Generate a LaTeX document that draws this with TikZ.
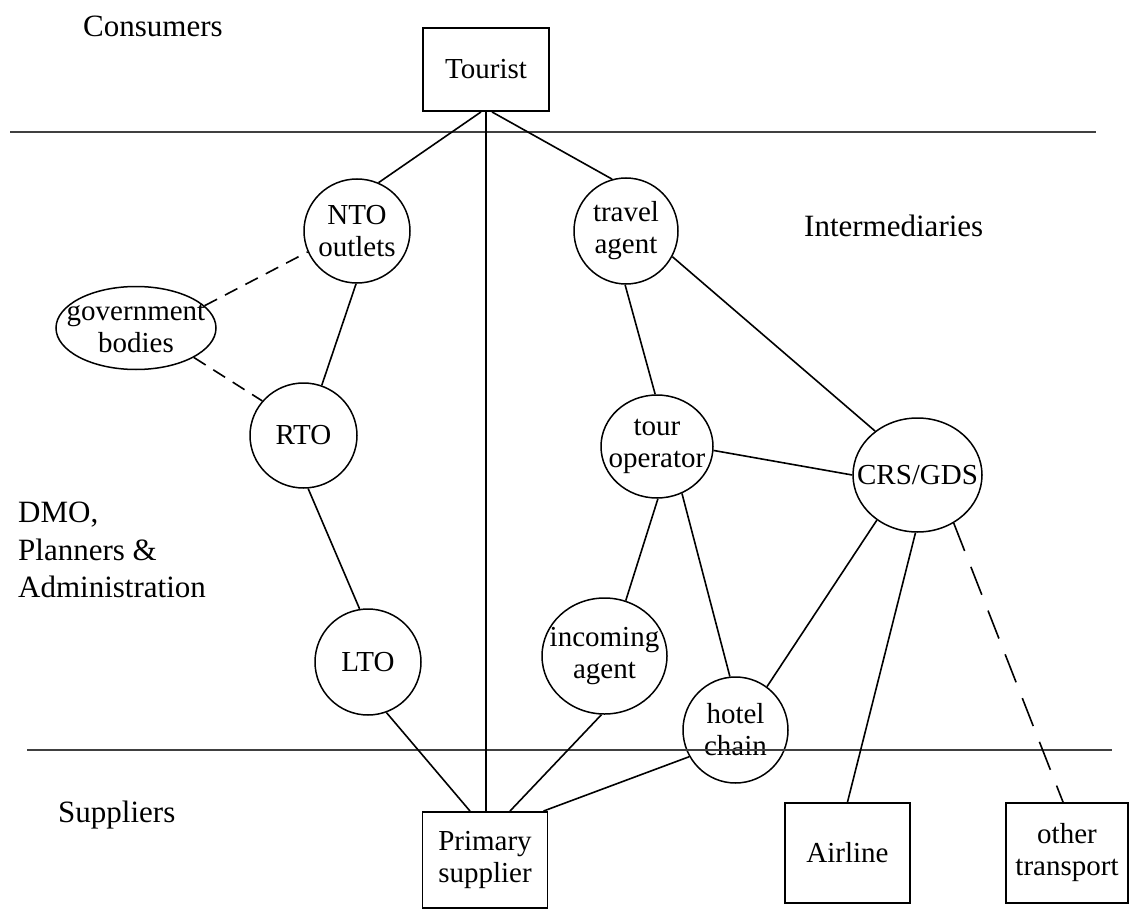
\documentclass[tikz,border=0pt]{standalone}
\usepackage{fontspec}
\setmainfont{Liberation Serif}
\usetikzlibrary{shapes.geometric}
\begin{document}
\begin{tikzpicture}[x=1pt, y=-1pt,
  every node/.style={font=\fontsize{29}{32}\selectfont},
  region/.style={font=\fontsize{31}{37.5}\selectfont, inner sep=0pt, align=left},
  box/.style={draw, rectangle, line width=1.9pt, inner sep=0pt, align=center},
  bubble/.style={draw, ellipse, line width=1.5pt, inner sep=0pt},
  bubbletext/.style={align=center, inner sep=0pt, font=\fontsize{29}{32}\selectfont},
  link/.style={line width=1.6pt},
  shortdash/.style={line width=1.6pt, dash pattern=on 14pt off 9pt},
  longdash/.style={line width=1.6pt, dash pattern=on 30pt off 17pt},
  divider/.style={line width=2.6pt, black!75}]

\useasboundingbox (0,0) rectangle (1129,909);

% region captions
\node[region, anchor=west] (consumers) at (83,26) {Consumers};
\node[region, anchor=west] (intermed) at (804,226) {Intermediaries};
\node[region, anchor=west] (dmo) at (18,550) {DMO,\\Planners \&\\Administration};
\node[region, anchor=west] (suppliers) at (58,815) {Suppliers};

% rectangular actors
\node[box, minimum width=126, minimum height=83] (tourist) at (486,69.5) {Tourist};
\node[box, minimum width=125, minimum height=96] (primary) at (485,860) {Primary\\supplier};
\node[box, minimum width=125, minimum height=100] (airline) at (847.5,853) {Airline};
\node[box, minimum width=122, minimum height=100] (other) at (1067,853) {other\\transport};

% round actors
\node[bubble, minimum width=106, minimum height=104, label={[bubbletext]center:{NTO\\outlets}}] (nto) at (357,231) {};
\node[bubble, minimum width=160, minimum height=83, label={[bubbletext]center:{government\\bodies}}] (gov) at (136,328) {};
\node[bubble, minimum width=107, minimum height=105, label={[bubbletext]center:RTO}] (rto) at (303.5,435.5) {};
\node[bubble, minimum width=106, minimum height=106, label={[bubbletext]center:LTO}] (lto) at (368,662) {};
\node[bubble, minimum width=104, minimum height=106, label={[bubbletext]center:{travel\\agent}}] (travel) at (626,231) {};
\node[bubble, minimum width=112, minimum height=103, label={[bubbletext]center:{tour\\operator}}] (tour) at (657,446.5) {};
\node[bubble, minimum width=129, minimum height=114, label={[bubbletext]center:CRS/GDS}] (crs) at (917.5,475) {};
\node[bubble, minimum width=125, minimum height=116, label={[bubbletext]center:{incoming\\agent}}] (incoming) at (604.5,656) {};
\node[bubble, minimum width=105, minimum height=106, label={[bubbletext]center:{hotel\\chain}}] (hotel) at (735.5,730) {};

% layer dividers
\coordinate (topL) at (10,132);
\coordinate (topR) at (1096,132);
\coordinate (botL) at (27,750);
\coordinate (botR) at (1112,750);
\draw[divider] (topL) -- (topR);
\draw[divider] (botL) -- (botR);

% distribution links
\draw[link] ([xshift=-5pt]tourist.south) -- (nto.66);
\draw[link] ([xshift=6pt]tourist.south) -- (travel.105);
\draw[link] (tourist.south) -- (tourist.south |- primary.north);
\draw[shortdash] (gov.18) -- (nto.203);
\draw[shortdash] (gov.333) -- (rto.140);
\draw[link] (nto.269) -- (rto.70);
\draw[link] (rto.275) -- (lto.99);
\draw[link] (lto.290) -- ([xshift=-15pt]primary.north);
\draw[link] (travel.269) -- (tour.92);
\draw[link] (travel.331) -- (crs.134);
\draw[link] (tour.356) -- (crs.180);
\draw[link] (tour.271) -- (incoming.69);
\draw[link] (tour.298) -- (hotel.96);
\draw[link] (crs.228) -- (hotel.54);
\draw[link] (crs.268) -- (airline.north);
\draw[longdash] (crs.307) -- ([xshift=-4pt]other.north);
\draw[link] (incoming.267) -- ([xshift=25pt]primary.north);
\draw[link] (hotel.210) -- ([xshift=-5pt]primary.north east);
\end{tikzpicture}
\end{document}
